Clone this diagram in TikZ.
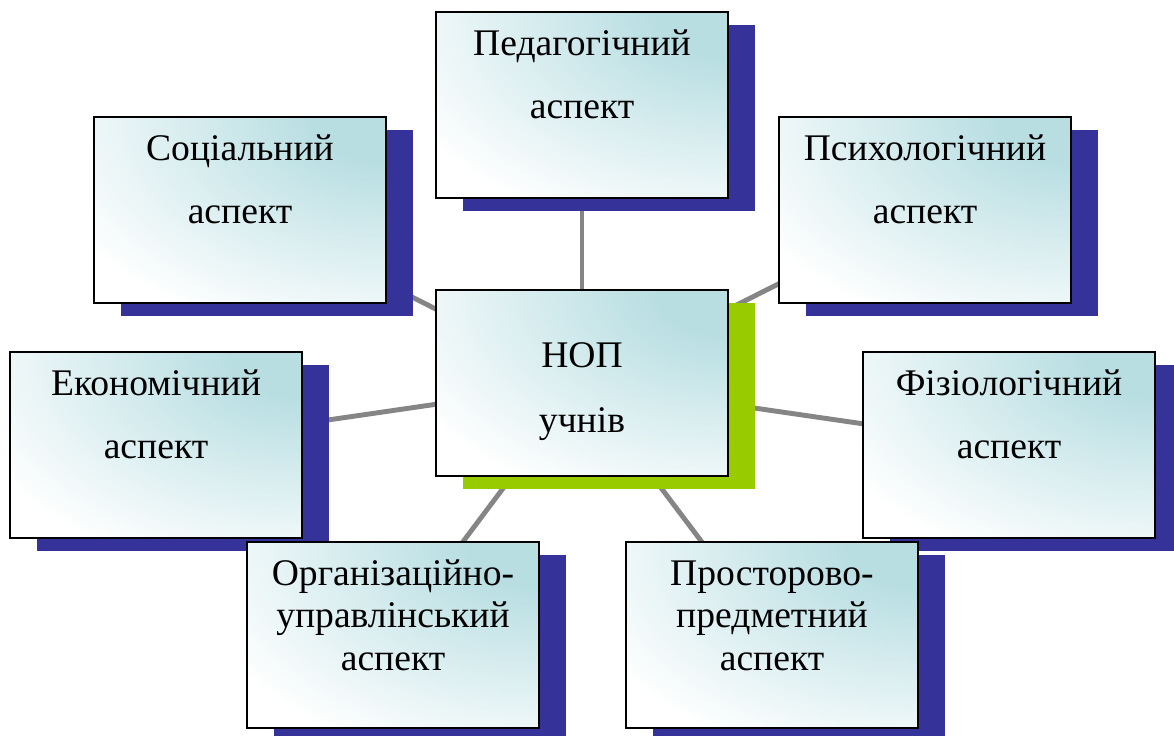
\documentclass[tikz,border=0pt]{standalone}
\usepackage{fontspec}
\setmainfont{Liberation Serif}
\usepackage{tikz}
\usetikzlibrary{shadows, backgrounds}

\definecolor{glowteal}{RGB}{184,222,226}
\definecolor{shadowblue}{RGB}{53,51,153}
\definecolor{shadowgreen}{RGB}{153,204,0}
\definecolor{spokegray}{RGB}{133,133,133}
\pgfdeclareradialshading{boxglow}{\pgfpoint{0bp}{0bp}}{color(0bp)=(glowteal); color(6bp)=(glowteal); color(31bp)=(white); color(50bp)=(white)}

\begin{document}
\begin{tikzpicture}[x=0.02cm, y=-0.02cm]
\tikzstyle{card} = [rectangle, draw, line width=1.1pt, fill=white, inner sep=0pt, text width=5.84cm, align=center, text height=0.86cm, text depth=2.86cm, font=\fontsize{21.4pt}{24.4pt}\selectfont, path picture={\shade[shading=boxglow] (path picture bounding box.south west) rectangle ([shift={(5.84cm,3.72cm)}]path picture bounding box.north east);}]
\tikzstyle{aspect} = [card, drop shadow={shadow xshift=0.54cm, shadow yshift=-0.26cm, opacity=1, fill=shadowblue}]
\tikzstyle{hub} = [card, text height=1.54cm, text depth=2.18cm, drop shadow={shadow xshift=0.54cm, shadow yshift=-0.26cm, opacity=1, fill=shadowgreen}]
\tikzstyle{spoke} = [draw=spokegray, line width=2.8pt]

\useasboundingbox (0,0) rectangle (1174,735);

\node (ped) [aspect] at (582,105) {Педагогічний\\[11.5pt]аспект};
\node (soc) [aspect] at (240,210) {Соціальний\\[11.5pt]аспект};
\node (psy) [aspect] at (925,210) {Психологічний\\[11.5pt]аспект};
\node (nop) [hub] at (582,383) {НОП\\[12.6pt]учнів};
\node (eco) [aspect] at (156,445) {Економічний\\[11.5pt]аспект};
\node (fiz) [aspect] at (1009,445) {Фізіологічний\\[11.5pt]аспект};
\node (org) [aspect] at (393,635) {Організаційно-\\управлінський\\аспект};
\node (pro) [aspect] at (772,635) {Просторово-\\предметний\\аспект};

% spokes behind the boxes
\begin{scope}[on background layer]
\draw[spoke] (nop.center) -- (ped.center);
\draw[spoke] (nop.center) -- (soc.center);
\draw[spoke] (nop.center) -- (psy.center);
\draw[spoke] (nop.center) -- (eco.center);
\draw[spoke] (nop.center) -- (fiz.center);
\draw[spoke] (nop.center) -- (org.center);
\draw[spoke] (nop.center) -- (pro.center);
\end{scope}

\end{tikzpicture}
\end{document}
